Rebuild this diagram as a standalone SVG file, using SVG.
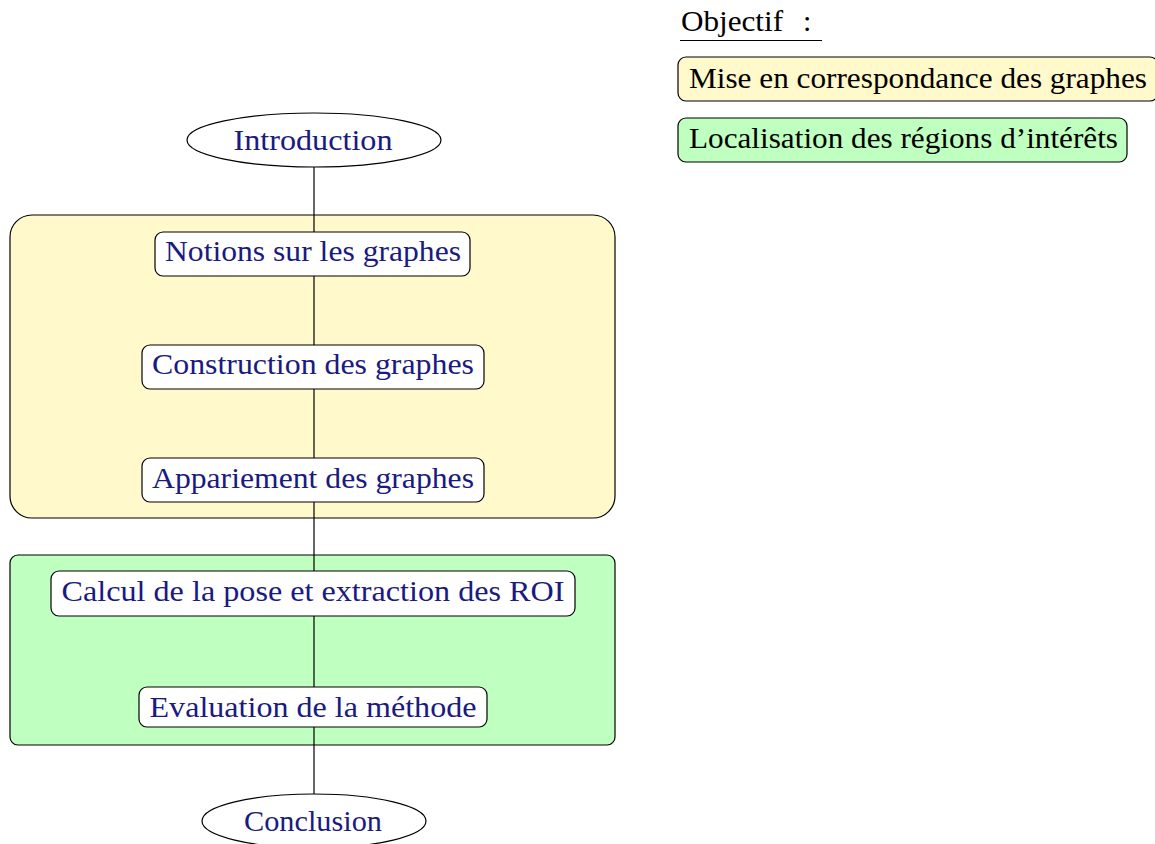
<svg xmlns="http://www.w3.org/2000/svg" width="1155" height="844" viewBox="0 0 1155 844">
<style>
text{font-family:"Liberation Serif","DejaVu Serif",serif;font-size:30px}
.t{fill:#1a1a80;text-anchor:middle}
.k{fill:#000}
.node{fill:#fff;stroke:#000;stroke-width:1.2}
.yl{fill:#fff9cc;stroke:#000;stroke-width:1.2}
.gr{fill:#bfffbf;stroke:#000;stroke-width:1.2}
.ln{stroke:#000;stroke-width:1.2;fill:none}
</style>
<rect width="1155" height="844" fill="#fff"/>
<g id="group-yellow"><rect class="yl" x="10" y="215" width="605" height="303" rx="22"/></g>
<g id="group-green"><rect class="gr" x="10" y="555" width="605" height="190" rx="8"/></g>
<g id="connectors"><line class="ln" x1="314" y1="167" x2="314" y2="794"/></g>
<g id="introduction"><ellipse class="node" cx="314" cy="140" rx="127" ry="27"/><text class="t" x="313" y="150" textLength="159" lengthAdjust="spacingAndGlyphs">Introduction</text></g>
<g id="notions"><rect class="node" x="155" y="232" width="315" height="44" rx="8"/><text class="t" x="313" y="261" textLength="296" lengthAdjust="spacingAndGlyphs">Notions sur les graphes</text></g>
<g id="construction"><rect class="node" x="142" y="345" width="342" height="44" rx="8"/><text class="t" x="313" y="374" textLength="322" lengthAdjust="spacingAndGlyphs">Construction des graphes</text></g>
<g id="appariement"><rect class="node" x="142" y="458" width="342" height="44" rx="8"/><text class="t" x="313" y="488" textLength="322" lengthAdjust="spacingAndGlyphs">Appariement des graphes</text></g>
<g id="calcul"><rect class="node" x="51" y="571" width="524" height="45" rx="8"/><text class="t" x="313" y="601" textLength="503" lengthAdjust="spacingAndGlyphs">Calcul de la pose et extraction des ROI</text></g>
<g id="evaluation"><rect class="node" x="139" y="687" width="348" height="40" rx="8"/><text class="t" x="313" y="717" textLength="327" lengthAdjust="spacingAndGlyphs">Evaluation de la méthode</text></g>
<g id="conclusion"><ellipse class="node" cx="314" cy="821" rx="112" ry="27"/><text class="t" x="313" y="831" textLength="138" lengthAdjust="spacingAndGlyphs">Conclusion</text></g>
<g id="objectif"><text class="k" x="681" y="31"><tspan textLength="102" lengthAdjust="spacingAndGlyphs">Objectif</tspan><tspan x="803">:</tspan></text><line class="ln" x1="680" y1="40.5" x2="822" y2="40.5"/></g>
<g id="legend-yellow"><rect class="yl" x="678" y="57" width="480" height="44" rx="8"/><text class="k" x="689" y="88" textLength="458" lengthAdjust="spacingAndGlyphs">Mise en correspondance des graphes</text></g>
<g id="legend-green"><rect class="gr" x="678" y="118" width="449" height="44" rx="8"/><text class="k" x="689" y="148" textLength="429" lengthAdjust="spacingAndGlyphs">Localisation des régions d’intérêts</text></g>
</svg>
